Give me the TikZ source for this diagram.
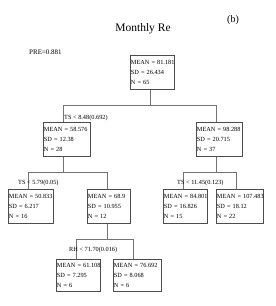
\documentclass[tikz,border=0pt]{standalone}
\usepackage{fontspec}
\setmainfont{Liberation Serif}
\usepackage{tikz}
\usetikzlibrary{positioning, calc}

\begin{document}
\begin{tikzpicture}[
    x=1pt, y=-1pt,
    font=\fontsize{6.3}{10.2}\selectfont,
    stat/.style={draw=black!70, fill=white, line width=0.6pt, anchor=north west,
                 align=left, inner xsep=0.6pt, inner ysep=1pt, minimum height=34pt,
                 text width=#1},
    split/.style={anchor=west, inner sep=0pt},
    link/.style={draw=black!55, line width=0.7pt}
]
\useasboundingbox (0,0) rectangle (276,306);
% title and header
\node (title) at (143,29) {\fontsize{11.5}{13}\selectfont Monthly Re};
\node (tag)   at (233,20) {\fontsize{10}{12}\selectfont (b)};
\node[anchor=west, inner sep=0pt] (pre) at (29,52) {\fontsize{7}{8}\selectfont PRE=0.881};
% tree boxes
\node[stat=42.8pt] (root)   at (130,55)  {MEAN~=~81.181\\SD~=~26.434\\N~=~65};
\node[stat=45.8pt] (left)   at (43,122)  {MEAN~=~58.576\\SD~=~12.38\\N~=~28};
\node[stat=44.8pt] (right)  at (196,122) {MEAN~=~98.288\\SD~=~20.715\\N~=~37};
\node[stat=43.8pt] (leftL)  at (8,189)   {MEAN~=~50.833\\SD~=~6.217\\N~=~16};
\node[stat=41.8pt] (leftR)  at (87,189)  {MEAN~=~68.9\\SD~=~10.955\\N~=~12};
\node[stat=42.8pt] (rightL) at (163,189) {MEAN~=~84.801\\SD~=~16.826\\N~=~15};
\node[stat=45.8pt] (rightR) at (216,189) {MEAN~=~107.483\\SD~=~18.12\\N~=~22};
\node[stat=42.8pt, minimum height=32pt] (rhL) at (56,259)  {MEAN~=~61.108\\SD~=~7.295\\N~=~6};
\node[stat=46.8pt, minimum height=32pt] (rhR) at (113,259) {MEAN~=~76.692\\SD~=~8.068\\N~=~6};
% connectors
\foreach \p/\c in {root/left, root/right, left/leftL, left/leftR,
                   right/rightL, right/rightR, leftR/rhL, leftR/rhR}{
  \draw[link] ([xshift=20pt]\p.south west) -- ++(0,16) -| ([xshift=20pt]\c.north west);
}
% split labels
\node[split] (s1) at (64,118)  {TS < 8.48(0.692)};
\node[split] (s2) at (18,183)  {TS < 5.79(0.05)};
\node[split] (s3) at (177,183) {TS < 11.45(0.123)};
\node[split] (s4) at (69,250)  {RH < 71.70(0.016)};
\end{tikzpicture}
\end{document}
